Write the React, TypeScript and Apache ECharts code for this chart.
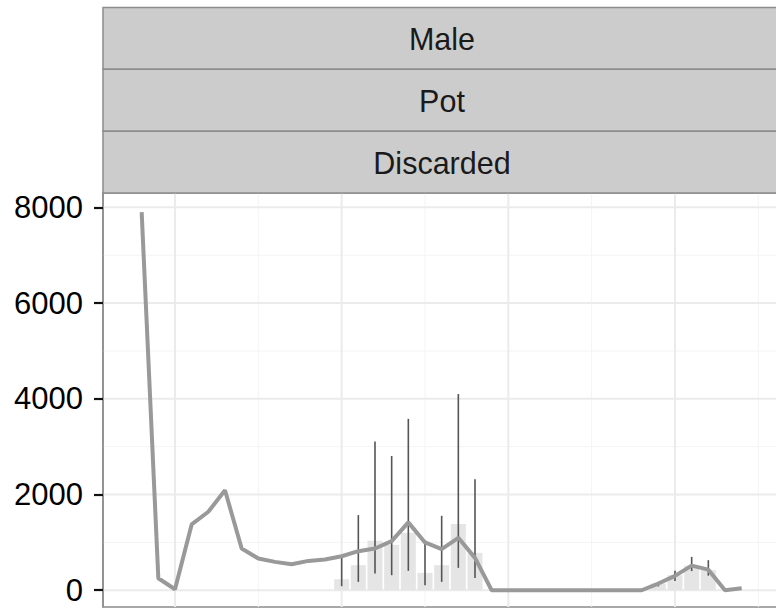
import React, { useEffect, useRef } from "react";
import * as echarts from "echarts";

const stripLabels = ["Male", "Pot", "Discarded"];

const lineX = [40, 45, 50, 55, 60, 65, 70, 75, 80, 85, 90, 95, 100, 105, 110, 115, 120, 125, 130, 135, 140, 145, 150, 155, 160, 165, 170, 175, 180, 185, 190, 195, 200, 205, 210, 215, 220];
const lineY = [7900, 250, 20, 1375, 1640, 2090, 872, 663, 593, 544, 613, 642, 711, 816, 873, 1026, 1418, 999, 859, 1095, 677, 0, 0, 0, 0, 0, 0, 0, 0, 0, 0, 140, 300, 515, 430, 0, 40];

const barX = [100, 105, 110, 115, 120, 125, 130, 135, 140, 195, 200, 205, 210];
const barY = [230, 524, 1033, 950, 1200, 363, 524, 1382, 782, 140, 314, 515, 422];
const errLow = [84, 175, 350, 314, 405, 105, 175, 468, 258, 80, 195, 400, 305];
const errHigh = [732, 1570, 3106, 2806, 3581, 1047, 1556, 4099, 2318, 175, 405, 698, 628];

const yTicks = [0, 2000, 4000, 6000, 8000];
const yMinor = [1000, 3000, 5000, 7000];
const xMajor = [50, 100, 150, 200];
const xMinor = [75, 125, 175, 225];

const FONT = '"Liberation Sans", Arial, Helvetica, sans-serif';

export default function App() {
  const ref = useRef<HTMLDivElement>(null);
  useEffect(() => {
    if (!ref.current) return;
    const chart = echarts.init(ref.current, undefined, { renderer: "svg" });
    const panelLeft = 103;
    const panelRight = 781;
    const stripTop = 7.5;
    const stripH = (193 - 7.5) / 3;

    const gridLine = (vertical: boolean, color: string, width: number) => (params: any, api: any) => {
      const cs = params.coordSys;
      const v = api.value(0);
      if (vertical) {
        const x = api.coord([v, 0])[0];
        return { type: "line", shape: { x1: x, y1: cs.y, x2: x, y2: cs.y + cs.height }, style: { stroke: color, lineWidth: width }, silent: true };
      }
      const y = api.coord([50, v])[1];
      return { type: "line", shape: { x1: cs.x, y1: y, x2: cs.x + cs.width, y2: y }, style: { stroke: color, lineWidth: width }, silent: true };
    };

    const graphics: any[] = [];
    stripLabels.forEach((lab, i) => {
      graphics.push({
        type: "rect",
        shape: { x: panelLeft, y: stripTop + i * stripH, width: panelRight - panelLeft, height: stripH },
        style: { fill: "#cccccc", stroke: "#8c8c8c", lineWidth: 1.5 },
        z: 10,
      });
      graphics.push({
        type: "text",
        style: {
          text: lab,
          x: (panelLeft + panelRight) / 2,
          y: stripTop + i * stripH + stripH / 2 + 1,
          align: "center",
          verticalAlign: "middle",
          textAlign: "center",
          textVerticalAlign: "middle",
          font: `30.5px ${FONT}`,
          fill: "#1a1a1a",
        },
        z: 11,
      });
    });

    chart.setOption({
      animation: false,
      backgroundColor: "#ffffff",
      grid: {
        left: panelLeft,
        top: 193,
        right: 790 - panelRight,
        bottom: 2,
        show: true,
        borderColor: "#8c8c8c",
        borderWidth: 1.5,
        backgroundColor: "#ffffff",
      },
      xAxis: {
        type: "value",
        min: 28.4,
        max: 231.8,
        axisLine: { show: false },
        axisTick: { show: false },
        axisLabel: { show: false },
        splitLine: { show: false },
      },
      yAxis: {
        type: "value",
        min: -350,
        max: 8300,
        axisLine: { show: true, onZero: false, lineStyle: { color: "#8c8c8c", width: 1.5 } },
        axisTick: { show: true, length: 9, customValues: yTicks, lineStyle: { color: "#111", width: 2.2 } },
        axisLabel: {
          show: true,
          customValues: yTicks,
          margin: 20,
          fontSize: 31,
          fontFamily: FONT,
          color: "#000",
          formatter: (v: number) => String(v),
        },
        splitLine: { show: false },
      },
      graphic: graphics,
      series: [
        { type: "custom", z: 0, silent: true, data: yMinor.map((v) => [v]), renderItem: gridLine(false, "#f4f4f4", 1) },
        { type: "custom", z: 0, silent: true, data: xMinor.map((v) => [v]), renderItem: gridLine(true, "#f4f4f4", 1) },
        { type: "custom", z: 0, silent: true, data: yTicks.map((v) => [v]), renderItem: gridLine(false, "#ebebeb", 2) },
        { type: "custom", z: 0, silent: true, data: xMajor.map((v) => [v]), renderItem: gridLine(true, "#ebebeb", 2) },
        {
          type: "bar",
          z: 2,
          barWidth: 15,
          data: barX.map((x, i) => [x, barY[i]]),
          itemStyle: { color: "#e5e5e5" },
        },
        {
          type: "custom",
          z: 3,
          data: barX.map((x, i) => [x, errLow[i], errHigh[i]]),
          renderItem: (params: any, api: any) => {
            const lo = api.coord([api.value(0), api.value(1)]);
            const hi = api.coord([api.value(0), api.value(2)]);
            return { type: "line", shape: { x1: lo[0], y1: lo[1], x2: hi[0], y2: hi[1] }, style: { stroke: "#555555", lineWidth: 1.6 } };
          },
        },
        {
          type: "line",
          z: 4,
          data: lineX.map((x, i) => [x, lineY[i]]),
          showSymbol: false,
          symbol: "none",
          lineStyle: { color: "#999999", width: 4 },
        },
      ],
    });
    return () => chart.dispose();
  }, []);

  return (
    <div style={{ position: "fixed", left: 0, top: 0, width: 776, height: 609, overflow: "hidden", background: "#fff" }}>
      <div ref={ref} style={{ width: 790, height: 609 }} />
    </div>
  );
}
